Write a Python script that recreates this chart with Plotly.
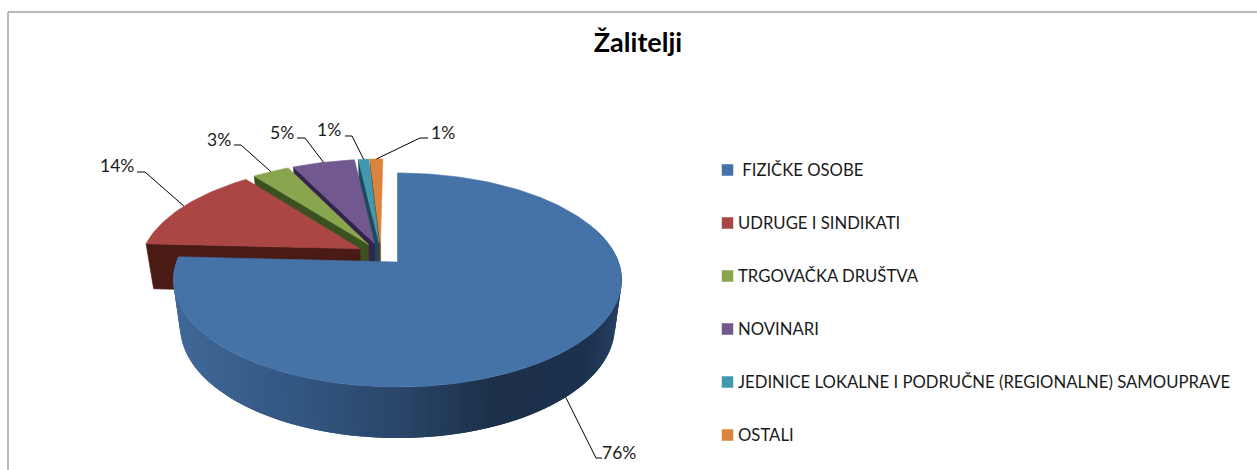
import numpy as np
import plotly.graph_objects as go

# ---------- data ----------
categories = [" FIZIČKE OSOBE", "UDRUGE I SINDIKATI", "TRGOVAČKA DRUŠTVA", "NOVINARI",
              "JEDINICE LOKALNE I PODRUČNE (REGIONALNE) SAMOUPRAVE", "OSTALI"]
values = [75.8, 13.6, 3.2, 5.4, 0.9, 1.1]
title_text = "Žalitelji"

# ---------- style ----------
top_colors = ["#4572A7", "#AA4643", "#89A54E", "#71588F", "#4198AF", "#DB843D"]
wall_colors = ["#2A4669", "#4A1A14", "#3B5220", "#33234F", "#1C4A5A", "#7A4518"]
blue_wall_x = [176, 300, 400, 500, 590, 622]
blue_wall_rgb = [(64, 104, 152), (51, 86, 130), (42, 70, 105), (28, 48, 73), (29, 50, 78), (38, 64, 98)]
FONT = "Lato"

# ---------- projection of the tilted disc on to the page ----------
X0, Y0, A, B, K = 397.5, 262.0, 104.0, 221.0, 0.168
DEPTH, DEPTH_SLOPE, BOTTOM_SCALE, PULL = 45.8, 4.35, 0.97, 0.11


def top(u, v):
    w = 1 + K * np.asarray(v)
    return X0 + B * np.asarray(u) / w, Y0 - A * np.asarray(v) / w


def bottom(u, v):
    w = 1 + K * np.asarray(v)
    return (X0 + BOTTOM_SCALE * B * np.asarray(u) / w,
            Y0 + DEPTH - (A + DEPTH_SLOPE) * np.asarray(v) / w)


total = sum(values)
edges = np.concatenate([[0], np.cumsum(values)]) / total * 2 * np.pi
mids = (edges[:-1] + edges[1:]) / 2
origin = -PULL * np.array([np.sin(mids[0]), np.cos(mids[0])])
centers = [np.zeros(2)] + [origin + PULL * np.array([np.sin(m), np.cos(m)]) for m in mids[1:]]


def disc(i, angle):
    return centers[i][0] + np.sin(angle), centers[i][1] + np.cos(angle)


fig = go.Figure()


def poly(xs, ys, color, width=0.6):
    fig.add_trace(go.Scatter(x=list(xs), y=list(ys), mode="lines", fill="toself", fillcolor=color,
                             line=dict(color=color, width=width), hoverinfo="skip", showlegend=False))


def face(i):
    ang = np.linspace(edges[i], edges[i + 1], max(6, int((edges[i + 1] - edges[i]) * 50)))
    u, v = disc(i, ang)
    x, y = top(u, v)
    cx, cy = top(*centers[i])
    poly(np.r_[cx, x, cx], np.r_[cy, y, cy], top_colors[i])


# small slices, far to near: radial wall, then the top face
for i in range(5, 0, -1):
    u, v = disc(i, edges[i])
    cu, cv = centers[i]
    tx, ty = top(np.array([cu, u]), np.array([cv, v]))
    bx, by = bottom(np.array([u, cu]), np.array([v, cv]))
    poly(np.r_[tx, bx, tx[0]], np.r_[ty, by, ty[0]], wall_colors[i])
    face(i)

# outer wall of the big slice, shaded along its length; each band runs under
# the next one so no seams show between them
steps = np.radians(np.arange(70, 273.5, 1.5))
steps = np.r_[steps[steps < edges[1]], edges[1]]
for a0 in steps[:-1]:
    ang = np.linspace(a0, min(a0 + np.radians(3.0), edges[1]), 4)
    u, v = disc(0, ang)
    tx, ty = top(u, v)
    bx, by = bottom(u, v)
    xm = float(tx[:2].mean())
    rgb = [np.interp(xm, blue_wall_x, [c[j] for c in blue_wall_rgb]) for j in range(3)]
    poly(np.r_[tx, bx[::-1], tx[0]], np.r_[ty, by[::-1], ty[0]], "rgb(%d,%d,%d)" % tuple(rgb), width=0)
face(0)

# data labels with elbow leaders
elbows = [(596, 458), (145, 172), (241, 145), (305, 138), (352, 136), (420, 138)]
ends = [(602, 458), (137, 172), (234, 145), (297, 138), (345, 136), (428, 138)]
label_pos = [(619, 452), (117, 165), (219, 139), (282, 132), (329, 129), (443, 132)]
for i, val in enumerate(values):
    u, v = disc(i, mids[i])
    ax, ay = bottom(u, v) if i == 0 else top(u, v)
    fig.add_trace(go.Scatter(x=[float(ax), elbows[i][0], ends[i][0]], y=[float(ay), elbows[i][1], ends[i][1]],
                             mode="lines", line=dict(color="#000000", width=1), hoverinfo="skip", showlegend=False))
    fig.add_annotation(x=label_pos[i][0], y=label_pos[i][1], text=f"{round(val)}%", showarrow=False,
                       font=dict(family=FONT, size=17.5, color="#1a1a1a"), xanchor="center", yanchor="middle")

# legend
legend_y = [170, 223, 276, 329, 382, 435]
for name, color, ly in zip(categories, top_colors, legend_y):
    fig.add_trace(go.Scatter(x=[727.5], y=[ly], mode="markers", name=name.strip(),
                             marker=dict(symbol="square", size=11.5, color=color), showlegend=False))
    fig.add_annotation(x=736, y=ly, text=name.replace(" ", "&nbsp;", 1) if name.startswith(" ") else name,
                       showarrow=False, xanchor="left", yanchor="middle",
                       font=dict(family=FONT, size=16.7, color="#1a1a1a"))

fig.update_layout(
    width=1257, height=470, autosize=False, margin=dict(l=0, r=0, t=0, b=0),
    paper_bgcolor="#ffffff", plot_bgcolor="#ffffff", showlegend=False,
    title=dict(text=title_text, x=638 / 1257, xanchor="center", y=1 - 43 / 470, yanchor="middle",
               font=dict(family=FONT, size=27, color="#000000", weight="bold")),
    xaxis=dict(range=[0, 1257], visible=False, fixedrange=True),
    yaxis=dict(range=[470, 0], visible=False, fixedrange=True),
    shapes=[dict(type="line", x0=8, y0=12, x1=1257, y1=12, line=dict(color="#A0A0A0", width=1.5), layer="below"),
            dict(type="line", x0=8, y0=12, x1=8, y1=470, line=dict(color="#A0A0A0", width=1.5), layer="below")],
)

fig.write_html("out.html", post_script="document.body.style.margin='0';document.body.style.overflow='hidden';",
               config=dict(displayModeBar=False))
